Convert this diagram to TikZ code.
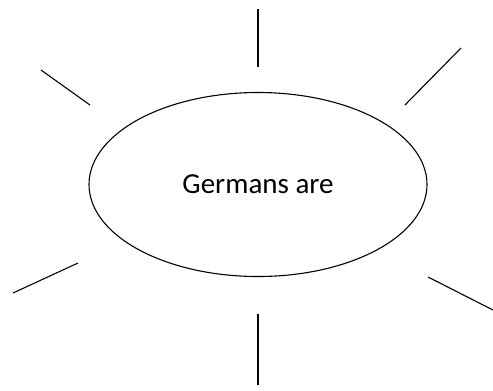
\documentclass[tikz,border=0pt]{standalone}
\usepackage{fontspec}
\setmainfont{Carlito}
\usetikzlibrary{shapes.geometric}

\begin{document}
\begin{tikzpicture}[x=1bp,y=-1bp,line width=1.1pt]
\useasboundingbox (0,0) rectangle (493,390);
\node[draw,ellipse,minimum width=338bp,minimum height=184bp,inner sep=0pt,font=\fontsize{29bp}{32bp}\selectfont] (germ) at (258,184.5) {Germans are};
\foreach \n/\x/\y/\u/\v in {t/258/9/258/67,tl/41/70/90/105,tr/461/48/405/105,bl/13/293/78/263,br/428/277/493/310,b/258/314/258/385}{
\coordinate (\n1) at (\x,\y);
\coordinate (\n2) at (\u,\v);
\draw (\n1)--(\n2);}
\end{tikzpicture}
\end{document}
